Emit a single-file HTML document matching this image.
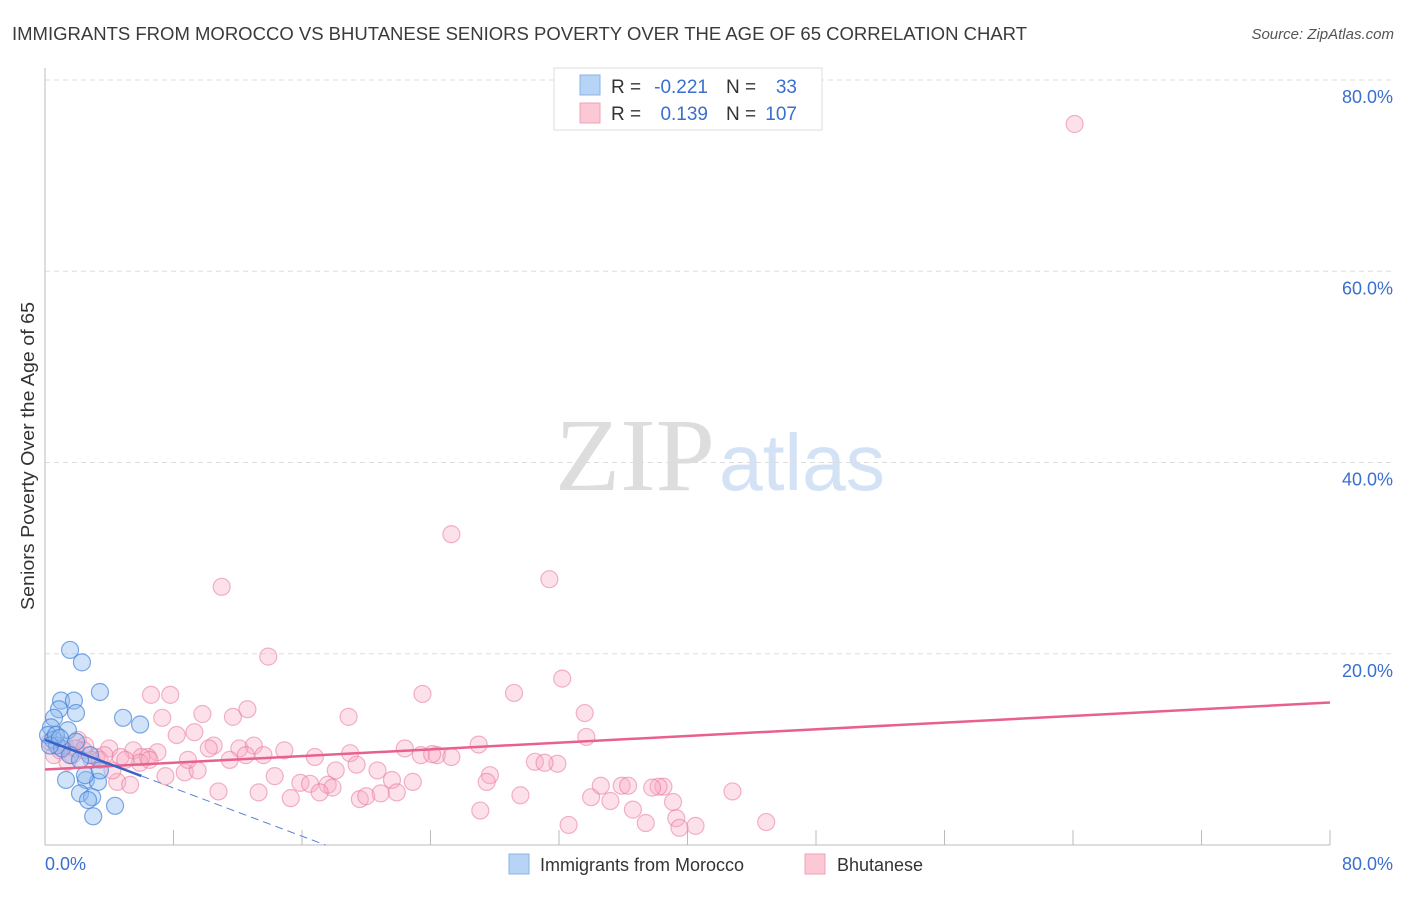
<!DOCTYPE html>
<html><head><meta charset="utf-8"><style>
body{margin:0;background:#fff;font-family:"Liberation Sans",sans-serif}
svg text{font-family:"Liberation Sans",sans-serif}
</style></head><body>
<svg id="c" width="1406" height="892">
<text x="12" y="40" font-size="18" fill="#3a3a3a" textLength="1015" lengthAdjust="spacingAndGlyphs">IMMIGRANTS FROM MOROCCO VS BHUTANESE SENIORS POVERTY OVER THE AGE OF 65 CORRELATION CHART</text>
<text x="1394" y="39" font-size="15" fill="#555" font-style="italic" text-anchor="end">Source: ZipAtlas.com</text>
<text x="0" y="0" transform="translate(34,456) rotate(-90)" font-size="18" fill="#333" text-anchor="middle" textLength="308" lengthAdjust="spacingAndGlyphs">Seniors Poverty Over the Age of 65</text>
<text x="555" y="490" font-size="104" fill="#ddd" textLength="160" lengthAdjust="spacingAndGlyphs" style="font-family:'Liberation Serif',serif">ZIP</text>
<text x="719" y="490" font-size="80" fill="#d3e2f5" textLength="166" lengthAdjust="spacingAndGlyphs">atlas</text>
<g id="grid"></g><g id="pts"></g><g id="lines"></g>
<g>
<rect x="554" y="68" width="268" height="62" fill="#fff" stroke="#ddd"/>
<rect x="580" y="75" width="20" height="20" fill="#b7d3f5" stroke="#8ab3e8"/>
<rect x="580" y="103" width="20" height="20" fill="#fcc8d6" stroke="#f0a0b8"/>
<text x="611" y="93" font-size="19" fill="#333">R =</text>
<text x="708" y="93" font-size="19" fill="#3a6fcf" text-anchor="end">-0.221</text>
<text x="726" y="93" font-size="19" fill="#333">N =</text>
<text x="797" y="93" font-size="19" fill="#3a6fcf" text-anchor="end">33</text>
<text x="611" y="120" font-size="19" fill="#333">R =</text>
<text x="708" y="120" font-size="19" fill="#3a6fcf" text-anchor="end">0.139</text>
<text x="726" y="120" font-size="19" fill="#333">N =</text>
<text x="797" y="120" font-size="19" fill="#3a6fcf" text-anchor="end">107</text>
</g>
<g>
<rect x="509" y="854" width="20" height="20" fill="#b7d3f5" stroke="#8ab3e8"/>
<text x="540" y="871" font-size="18" fill="#333">Immigrants from Morocco</text>
<rect x="805" y="854" width="20" height="20" fill="#fcc8d6" stroke="#f0a0b8"/>
<text x="837" y="871" font-size="18" fill="#333">Bhutanese</text>
</g>
</svg>
<script>
const yTicks=[20,40,60,80];
const yTickLabels=["20.0%","40.0%","60.0%","80.0%"];
const xTickLabels=["0.0%","80.0%"];
const blueX=[1.56,2.3,3.42,1.0,1.8,0.87,1.93,0.56,4.86,5.92,1.43,0.37,0.19,0.5,1.93,0.75,1.06,1.56,2.8,2.18,1.31,2.55,3.3,2.18,2.93,2.68,4.36,3.0,0.68,0.31,0.93,2.49,3.42];
const blueY=[20.4,19.1,16.0,15.1,15.1,14.2,13.8,13.3,13.3,12.6,12.0,12.3,11.5,11.0,10.8,10.4,10.1,9.4,9.4,8.9,6.8,6.8,6.6,5.4,5.0,4.7,4.1,3.0,11.5,10.4,11.2,7.3,7.8];
const pinkX=[64.1,25.3,31.4,11.0,13.9,32.2,6.6,7.8,23.5,29.2,9.8,11.7,12.6,7.3,18.9,33.6,8.2,9.3,33.7,10.5,12.1,10.2,13.0,14.9,22.4,27.0,4.0,5.5,7.0,6.4,3.2,6.0,4.7,12.5,13.6,16.8,19.0,23.4,24.4,25.3,24.1,30.5,31.9,31.1,18.1,20.7,19.4,21.6,22.9,27.7,27.5,15.9,14.3,16.5,17.6,7.5,8.7,9.5,4.5,5.3,5.9,10.8,13.3,15.3,17.9,17.1,19.6,20.0,21.9,20.9,29.6,27.1,34.0,34.6,35.2,35.9,36.3,38.5,38.2,37.8,39.1,39.3,42.8,39.5,40.5,37.4,36.6,44.9,32.6,0.56,0.93,1.25,2.05,2.5,2.9,3.4,1.7,1.4,3.7,4.2,2.4,0.3,1.9,5.0,6.5,8.9,11.5];
const pinkY=[75.4,32.5,27.8,27.0,19.7,17.4,15.7,15.7,15.8,15.9,13.7,13.4,14.2,13.3,13.4,13.8,11.5,11.8,11.3,10.4,10.1,10.1,10.4,9.9,10.1,10.5,10.1,9.9,9.7,9.2,9.2,9.2,9.2,9.4,9.4,9.2,9.6,9.4,9.4,9.2,9.5,8.7,8.5,8.6,7.8,7.8,8.4,6.8,6.6,7.3,6.6,6.5,7.2,6.4,6.3,7.2,7.6,7.8,6.6,6.3,8.6,5.6,5.5,4.9,6.0,5.5,4.8,5.1,5.5,5.4,5.2,3.6,5.0,6.2,4.6,6.2,6.2,6.1,6.1,6.0,4.5,2.8,5.6,1.8,2.0,2.3,3.7,2.4,2.1,9.4,9.9,10.4,11.0,10.4,8.9,8.9,9.4,8.7,9.4,7.8,9.9,10.8,10.1,8.9,8.9,8.9,8.9];
const pinkTrend=[7.9,14.9];
const blueTrend=[11.0,-0.63];
const NS='http://www.w3.org/2000/svg';
const X=v=>45+v*(1285/80), Y=v=>845-v*(765/80);
function mk(tag,at,p){const e=document.createElementNS(NS,tag);for(const k in at)e.setAttribute(k,at[k]);p.appendChild(e);return e;}
const g=document.getElementById('grid');
yTicks.forEach((t,i)=>{
 const l=mk('line',{x1:45,x2:1393,y1:Y(t),y2:Y(t),stroke:'#ddd','stroke-dasharray':'5,4'},g);
 
 
 const tx=mk('text',{x:1393,y:Y(t)+23,'font-size':18,fill:'#3a6fcf','text-anchor':'end'},g);tx.textContent=yTickLabels[i];
 
 
});
mk('line',{x1:45,x2:45,y1:68,y2:845,stroke:'#bbb'},g);
mk('line',{x1:45,x2:1330,y1:845,y2:845,stroke:'#bbb'},g);
for(let i=0;i<=10;i++){mk('line',{x1:X(i*8),x2:X(i*8),y1:830,y2:845,stroke:'#bbb'},g);}
const t0=mk('text',{x:45,y:870,'font-size':18,fill:'#3a6fcf'},g);t0.textContent=xTickLabels[0];


const t1=mk('text',{x:1393,y:870,'font-size':18,fill:'#3a6fcf','text-anchor':'end'},g);t1.textContent=xTickLabels[1];


const p=document.getElementById('pts');
pinkX.forEach((x,i)=>{const c=mk('circle',{cx:X(x),cy:Y(pinkY[i]),r:8.5,fill:'rgba(248,170,195,0.35)',stroke:'rgba(232,120,155,0.55)','stroke-width':1.2},p);
 
 });
blueX.forEach((x,i)=>{const c=mk('circle',{cx:X(x),cy:Y(blueY[i]),r:8.5,fill:'rgba(140,185,240,0.4)',stroke:'rgba(60,125,215,0.65)','stroke-width':1.2},p);
 
 });
const L=document.getElementById('lines');
const pl=mk('line',{x1:X(0),y1:Y(pinkTrend[0]),x2:X(80),y2:Y(pinkTrend[1]),stroke:'#e8608e','stroke-width':2.5},L);


const bl=mk('line',{x1:X(0),y1:Y(blueTrend[0]),x2:X(6),y2:Y(blueTrend[0]+blueTrend[1]*6),stroke:'#3a62c8','stroke-width':2.5},L);


const xe=-blueTrend[0]/blueTrend[1];
const bd=mk('line',{x1:X(6),y1:Y(blueTrend[0]+blueTrend[1]*6),x2:X(xe),y2:Y(0),stroke:'#5a82d8','stroke-width':1,'stroke-dasharray':'8,5'},L);


</script>
</body></html>
